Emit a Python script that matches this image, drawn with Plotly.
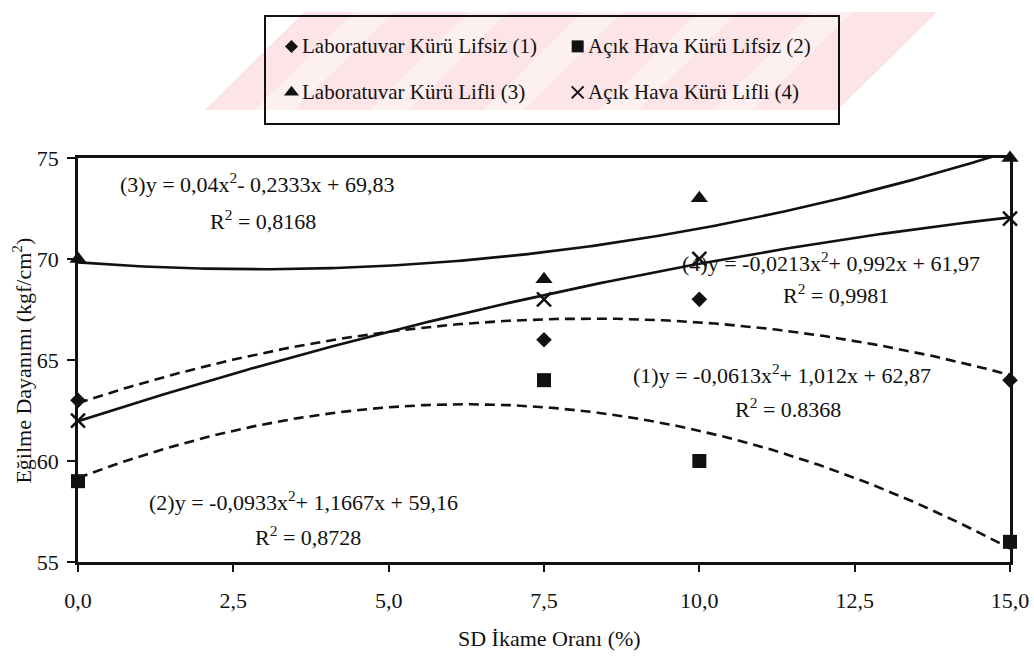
import numpy as np
import plotly.graph_objects as go

# SD replacement ratio (%)
sd_ratio = [0, 7.5, 10, 15]

# Flexural strength (kgf/cm²) for each curing / fibre condition
lab_lifsiz = [63, 66, 68, 64]     # (1)
acik_lifsiz = [59, 64, 60, 56]    # (2)
lab_lifli = [70, 69, 73, 75]      # (3)
acik_lifli = [62, 68, 70, 72]     # (4)

series_names = [
    "Laboratuvar Kürü Lifsiz (1)",
    "Açık Hava Kürü Lifsiz (2)",
    "Laboratuvar Kürü Lifli (3)",
    "Açık Hava Kürü Lifli (4)",
]

# Quadratic trendlines y = a·x² + b·x + c and their R²
coef_a = [-0.0613, -0.0933, 0.04, -0.0213]
coef_b = [1.012, 1.1667, -0.2333, 0.992]
coef_c = [62.87, 59.16, 69.83, 61.97]
r_squared = [0.8368, 0.8728, 0.8168, 0.9981]
r_squared_sep = [".", ",", ",", ","]

x_ticks = [0, 2.5, 5, 7.5, 10, 12.5, 15]
x_tick_labels = ["0,0", "2,5", "5,0", "7,5", "10,0", "12,5", "15,0"]
y_ticks = [55, 60, 65, 70, 75]

# ---- page geometry (pixels) ----
W, H = 1034, 656
ML, MR, MT, MB = 78, 21, 5, 94
PW = W - ML - MR
PH = H - MT - MB


def px_x(px):
    return (px - ML) / PW


def px_y(py):
    return (H - MB - py) / PH


FONT = "Liberation Serif"
INK = "#111111"

values = [lab_lifsiz, acik_lifsiz, lab_lifli, acik_lifli]
symbols = ["diamond", "square", "triangle-up", "x-thin"]
marker_sizes = [12, 14, 15, 14]
legend_sizes = [10, 12, 13, 12]
dashes = ["10px,6px", "10px,6px", "solid", "solid"]

fig = go.Figure()

# trendlines
xs = np.linspace(0, 15, 200)
for a, b, c, dash in zip(coef_a, coef_b, coef_c, dashes):
    fig.add_trace(go.Scatter(
        x=xs, y=a * xs ** 2 + b * xs + c, mode="lines",
        line=dict(color=INK, width=2.6, dash=dash),
        showlegend=False, hoverinfo="skip",
    ))

# measured points
for vals, sym, size, name in zip(values, symbols, marker_sizes, series_names):
    fig.add_trace(go.Scatter(
        x=sd_ratio, y=vals, mode="markers", name=name,
        marker=dict(symbol=sym, size=size, color=INK,
                    line=dict(color=INK, width=2.5 if sym == "x-thin" else 0)),
        cliponaxis=False, showlegend=False,
    ))

# boxed two-column legend drawn on its own small subplot
leg_cols = [0.044, 0.545]
leg_rows = [0.722, 0.287]
annotations = []
for i, (sym, size, name) in enumerate(zip(symbols, legend_sizes, series_names)):
    cx = leg_cols[i % 2]
    cy = leg_rows[i // 2]
    fig.add_trace(go.Scatter(
        x=[cx], y=[cy], mode="markers", xaxis="x2", yaxis="y2",
        marker=dict(symbol=sym, size=size, color=INK,
                    line=dict(color=INK, width=2 if sym == "x-thin" else 0)),
        cliponaxis=False, showlegend=False, hoverinfo="skip",
    ))
    annotations.append(dict(
        x=cx + 0.014, y=cy, xref="x2", yref="y2", xanchor="left", yanchor="middle",
        text=name, showarrow=False, font=dict(family=FONT, size=21, color=INK),
    ))


def dec(v):
    return str(v).replace(".", ",")


# equation labels: left edge / centre (px)
eq_pos = [(633, 370), (147, 500), (118, 175), (682, 255)]
r2_pos = [(790, 405), (309, 535), (264, 212), (838, 288)]
for i in range(4):
    sign = "+" if coef_b[i] >= 0 else "-"
    eq = (f"({i + 1})y = {dec(coef_a[i])}x<sup>2</sup>{sign} "
          f"{dec(abs(coef_b[i]))}x + {dec(coef_c[i])}")
    annotations.append(dict(
        x=px_x(eq_pos[i][0]), y=px_y(eq_pos[i][1]), xref="paper", yref="paper",
        xanchor="left", yanchor="middle", text=eq, showarrow=False,
        font=dict(family=FONT, size=22, color=INK),
    ))
    r2 = str(r_squared[i]).replace(".", r_squared_sep[i])
    annotations.append(dict(
        x=px_x(r2_pos[i][0]), y=px_y(r2_pos[i][1]), xref="paper", yref="paper",
        xanchor="center", yanchor="middle", text=f"R<sup>2</sup> = {r2}",
        showarrow=False, font=dict(family=FONT, size=22, color=INK),
    ))

# axis titles
annotations.append(dict(
    x=px_x(457), y=px_y(640), xref="paper", yref="paper", xanchor="left",
    yanchor="middle", text="SD İkame Oranı (%)", showarrow=False,
    font=dict(family=FONT, size=22, color=INK),
))
annotations.append(dict(
    x=px_x(22), y=px_y(356), xref="paper", yref="paper", xanchor="center",
    yanchor="middle", text="Eğilme Dayanımı (kgf/cm<sup>2</sup>)", textangle=-90,
    showarrow=False, font=dict(family=FONT, size=22, color=INK),
))

# faint striped band behind the legend
shapes = []


def band(x0, x1, y_bot, y_top, slant):
    return (f"M {px_x(x0)},{px_y(y_bot)} L {px_x(x1)},{px_y(y_bot)} "
            f"L {px_x(x1 + slant)},{px_y(y_top)} L {px_x(x0 + slant)},{px_y(y_top)} Z")


shapes.append(dict(type="path", xref="paper", yref="paper", layer="below",
                   path=band(205, 840, 100, 0, 100),
                   fillcolor="#fce4e7", line=dict(width=0)))
for off in range(50, 600, 115):
    shapes.append(dict(type="path", xref="paper", yref="paper", layer="below",
                       path=band(205 + off, 205 + off + 40, 100, 0, 100),
                       fillcolor="#fdf0f1", line=dict(width=0)))

axis_common = dict(showgrid=False, zeroline=False, showline=True, mirror=True,
                   linecolor=INK, linewidth=2.5,
                   tickfont=dict(family=FONT, size=22, color=INK))

fig.update_layout(
    width=W, height=H,
    margin=dict(l=ML, r=MR, t=MT, b=MB),
    paper_bgcolor="white", plot_bgcolor="white",
    showlegend=False,
    xaxis=dict(domain=[0, 1], range=[0, 15], tickvals=x_ticks, ticktext=x_tick_labels,
               ticks="outside", ticklen=7, tickwidth=2, tickcolor=INK,
               ticklabelstandoff=10, **axis_common),
    yaxis=dict(domain=[0, px_y(149)], range=[55, 75], tickvals=y_ticks,
               ticks="outside", ticklen=8, tickwidth=2, tickcolor=INK,
               ticklabelstandoff=4, **axis_common),
    xaxis2=dict(domain=[px_x(267), px_x(840)], range=[0, 1], anchor="y2",
                showgrid=False, zeroline=False, showticklabels=False, ticks="",
                showline=True, mirror=True, linecolor=INK, linewidth=2),
    yaxis2=dict(domain=[px_y(113), 1.0], range=[0, 1], anchor="x2",
                showgrid=False, zeroline=False, showticklabels=False, ticks="",
                showline=True, mirror=True, linecolor=INK, linewidth=2),
    annotations=annotations,
    shapes=shapes,
)

fig.write_html("out.html")
